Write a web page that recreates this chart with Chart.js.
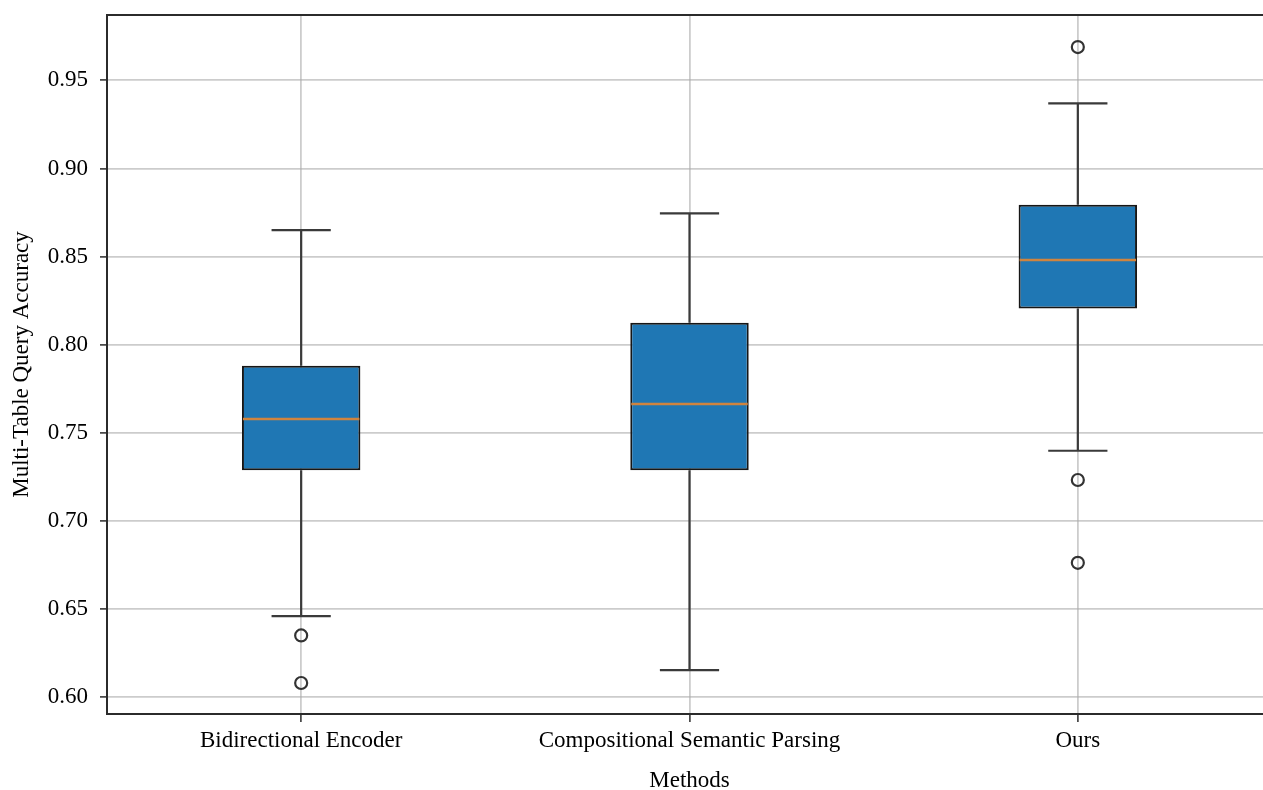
<!DOCTYPE html>
<html>
<head>
<meta charset="utf-8">
<script src="https://cdn.jsdelivr.net/npm/chart.js@4.4.1/dist/chart.umd.min.js"></script>
<style>
    html, body { margin: 0; padding: 0; background: #fff; overflow: hidden; }
    canvas { display: block; }
</style>
</head>
<body>
<canvas id="boxChart" width="1290" height="790"></canvas>
<script>
// Box plot values
const methods = ['Bidirectional Encoder', 'Compositional Semantic Parsing', 'Ours'];
const whiskerLow = [0.646, 0.6153, 0.7398];
const q1 = [0.7288, 0.7288, 0.8206];
const medians = [0.7578, 0.7663, 0.848];
const q3 = [0.788, 0.8124, 0.8794];
const whiskerHigh = [0.865, 0.8745, 0.9369];
const outliers = [[0.635, 0.608], [], [0.9689, 0.7232, 0.6762]];
const yTicks = [0.60, 0.65, 0.70, 0.75, 0.80, 0.85, 0.90, 0.95];
const yMin = 0.5904;
const yMax = 0.9871;

const fontFamily = "'Liberation Serif', 'Times New Roman', serif";
const spineColor = '#2b2b2b';
const gridColor = 'rgba(170, 170, 170, 0.6)';

// Points for the outlier markers
const outlierPoints = [];
outliers.forEach((list, i) => {
    list.forEach(v => outlierPoints.push({ x: methods[i], y: v }));
});

// Whiskers, caps, medians and the top spine
const boxExtras = {
    id: 'boxExtras',
    afterDatasetsDraw(chart) {
        const ctx = chart.ctx;
        const x = chart.scales.x;
        const y = chart.scales.y;
        const bars = chart.getDatasetMeta(0).data;
        ctx.save();
        ctx.lineCap = 'butt';
        methods.forEach((m, i) => {
            const cx = x.getPixelForValue(i);
            const half = bars[i].width / 2;
            const cap = half / 2;

            ctx.strokeStyle = '#3a3a3a';
            ctx.lineWidth = 2.2;
            ctx.beginPath();
            ctx.moveTo(cx, y.getPixelForValue(q3[i]));
            ctx.lineTo(cx, y.getPixelForValue(whiskerHigh[i]));
            ctx.moveTo(cx, y.getPixelForValue(q1[i]));
            ctx.lineTo(cx, y.getPixelForValue(whiskerLow[i]));
            ctx.moveTo(cx - cap, y.getPixelForValue(whiskerHigh[i]));
            ctx.lineTo(cx + cap, y.getPixelForValue(whiskerHigh[i]));
            ctx.moveTo(cx - cap, y.getPixelForValue(whiskerLow[i]));
            ctx.lineTo(cx + cap, y.getPixelForValue(whiskerLow[i]));
            ctx.stroke();

            ctx.strokeStyle = '#cf843f';
            ctx.lineWidth = 2.5;
            ctx.beginPath();
            ctx.moveTo(cx - half + 1, y.getPixelForValue(medians[i]));
            ctx.lineTo(cx + half - 1, y.getPixelForValue(medians[i]));
            ctx.stroke();
        });

        const area = chart.chartArea;
        ctx.strokeStyle = spineColor;
        ctx.lineWidth = 2;
        ctx.beginPath();
        ctx.moveTo(area.left - 1, area.top);
        ctx.lineTo(area.right, area.top);
        ctx.stroke();
        ctx.restore();
    }
};

new Chart(document.getElementById('boxChart'), {
    type: 'bar',
    data: {
        labels: methods,
        datasets: [
            {
                label: 'IQR',
                data: q1.map((v, i) => [v, q3[i]]),
                backgroundColor: '#1f77b4',
                borderColor: '#161616',
                borderWidth: 2,
                borderSkipped: false,
                barPercentage: 0.305,
                categoryPercentage: 1,
                grouped: false,
                order: 2
            },
            {
                type: 'line',
                label: 'Outliers',
                data: outlierPoints,
                showLine: false,
                pointStyle: 'circle',
                pointRadius: 6,
                pointBorderWidth: 2.2,
                pointBorderColor: '#333',
                pointBackgroundColor: 'rgba(255,255,255,0)',
                order: 1
            }
        ]
    },
    options: {
        responsive: false,
        animation: false,
        layout: {
            padding: { top: 15, right: 18, left: 0, bottom: 0 }
        },
        plugins: {
            legend: { display: false },
            tooltip: { enabled: false }
        },
        scales: {
            x: {
                offset: true,
                grid: {
                    offset: false,
                    color: gridColor,
                    lineWidth: 1.8,
                    tickColor: spineColor,
                    tickLength: 8,
                    tickWidth: 1.5
                },
                border: { color: spineColor, width: 2 },
                ticks: {
                    color: '#000',
                    padding: 5,
                    maxRotation: 0,
                    font: { family: fontFamily, size: 23 }
                },
                title: {
                    display: true,
                    text: 'Methods',
                    color: '#000',
                    padding: { top: 0, bottom: -2 },
                    font: { family: fontFamily, size: 23, lineHeight: 1 }
                },
                afterFit(scale) {
                    scale.height = 76;
                    scale.paddingLeft = 0;
                    scale.paddingRight = 0;
                }
            },
            y: {
                min: yMin,
                max: yMax,
                grid: {
                    color: gridColor,
                    lineWidth: 1.8,
                    tickColor: spineColor,
                    tickLength: 7,
                    tickWidth: 1.5
                },
                border: { color: spineColor, width: 2 },
                ticks: {
                    color: '#000',
                    padding: 12,
                    font: { family: fontFamily, size: 23 },
                    callback: value => value.toFixed(2)
                },
                afterBuildTicks(scale) {
                    scale.ticks = yTicks.map(v => ({ value: v }));
                },
                title: {
                    display: true,
                    text: 'Multi-Table Query Accuracy',
                    color: '#000',
                    padding: { top: 8, bottom: 0 },
                    font: { family: fontFamily, size: 23 }
                },
                afterFit(scale) {
                    scale.width = 107;
                    scale.paddingTop = 0;
                    scale.paddingBottom = 0;
                }
            }
        }
    },
    plugins: [boxExtras]
});
</script>
</body>
</html>
